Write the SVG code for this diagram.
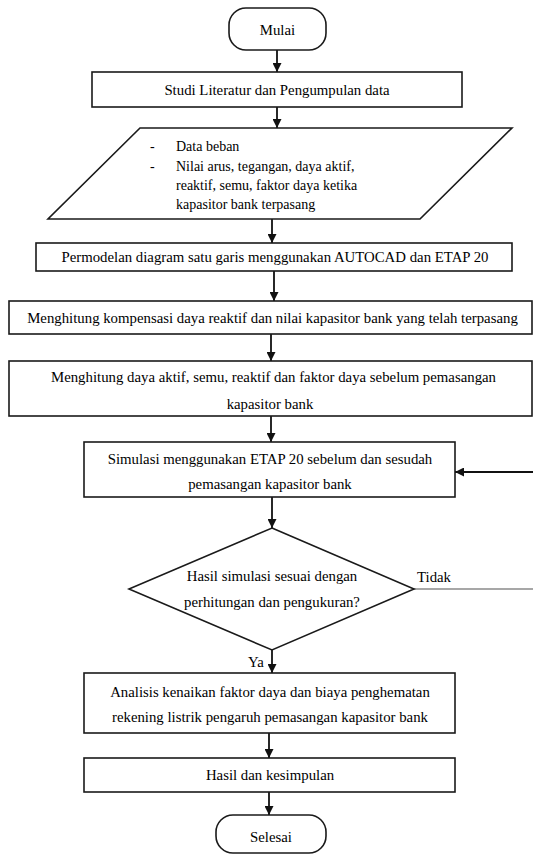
<svg xmlns="http://www.w3.org/2000/svg" width="533" height="858" viewBox="0 0 533 858">
<style>
.s{fill:#fff;stroke:#1a1a1a;stroke-width:1.6}
.t{font-family:'Liberation Serif','Times New Roman',serif;font-size:14.8px;fill:#000;text-anchor:middle;dominant-baseline:central}
.l{text-anchor:start;font-size:14px}
.c{stroke:#111;stroke-width:1.8;fill:none}
.g{stroke:#8a8a8a;stroke-width:1.4;fill:none}
</style>
<defs>
<marker id="ah" viewBox="0 0 10 10" refX="10" refY="5" markerWidth="9" markerHeight="9" markerUnits="userSpaceOnUse" orient="auto">
<path d="M0,0 L10,5 L0,10 z" fill="#111"/>
</marker>
</defs>
<rect width="533" height="858" fill="#fff"/>
<g id="connectors">
<line class="c" x1="277" y1="50" x2="277" y2="72" marker-end="url(#ah)"/>
<line class="c" x1="277" y1="107" x2="277" y2="128" marker-end="url(#ah)"/>
<line class="c" x1="272" y1="219" x2="272" y2="243" marker-end="url(#ah)"/>
<line class="c" x1="274" y1="271" x2="274" y2="301" marker-end="url(#ah)"/>
<line class="c" x1="271" y1="334" x2="271" y2="361" marker-end="url(#ah)"/>
<line class="c" x1="271" y1="416" x2="271" y2="442" marker-end="url(#ah)"/>
<line class="c" x1="272" y1="497" x2="272" y2="528" marker-end="url(#ah)"/>
<line class="c" x1="272" y1="650" x2="272" y2="673" marker-end="url(#ah)"/>
<line class="c" x1="269" y1="733" x2="269" y2="758" marker-end="url(#ah)"/>
<line class="c" x1="269" y1="792" x2="269" y2="815" marker-end="url(#ah)"/>
<line class="g" x1="414" y1="589" x2="533" y2="589"/>
<line class="c" x1="533" y1="472" x2="455" y2="472" marker-end="url(#ah)"/>
<text class="t" x="434" y="577">Tidak</text>
<text class="t" x="256" y="662">Ya</text>
</g>
<g id="mulai">
<rect class="s" x="229" y="8" width="97" height="42" rx="17" ry="17"/>
<text class="t" x="277.5" y="30">Mulai</text>
</g>
<g id="studi">
<rect class="s" x="92" y="72" width="370" height="35"/>
<text class="t" x="277" y="90">Studi Literatur dan Pengumpulan data</text>
</g>
<g id="data">
<polygon class="s" points="140,128 512,128 420,219 48,219"/>
<text class="t l" x="150" y="146">-</text>
<text class="t l" x="176" y="146">Data beban</text>
<text class="t l" x="150" y="166">-</text>
<text class="t l" x="176" y="166">Nilai arus, tegangan, daya aktif,</text>
<text class="t l" x="176" y="185">reaktif, semu, faktor daya ketika</text>
<text class="t l" x="176" y="204">kapasitor bank terpasang</text>
</g>
<g id="permodelan">
<rect class="s" x="36" y="243" width="476" height="28"/>
<text class="t" x="275" y="257">Permodelan diagram satu garis menggunakan AUTOCAD dan ETAP 20</text>
</g>
<g id="kompensasi">
<rect class="s" x="9" y="301" width="523" height="33"/>
<text class="t" x="272.5" y="317.5">Menghitung kompensasi daya reaktif dan nilai kapasitor bank yang telah terpasang</text>
</g>
<g id="daya">
<rect class="s" x="9" y="361" width="523" height="55"/>
<text class="t" x="273.5" y="377">Menghitung daya aktif, semu, reaktif dan faktor daya sebelum pemasangan</text>
<text class="t" x="270" y="404">kapasitor bank</text>
</g>
<g id="simulasi">
<rect class="s" x="84" y="442" width="371" height="55"/>
<text class="t" x="270" y="458.5">Simulasi menggunakan ETAP 20 sebelum dan sesudah</text>
<text class="t" x="270" y="483.5">pemasangan kapasitor bank</text>
</g>
<g id="keputusan">
<polygon class="s" points="272,528 414,589 272,650 129,589"/>
<text class="t" x="272" y="576">Hasil simulasi sesuai dengan</text>
<text class="t" x="272" y="602">perhitungan dan pengukuran?</text>
</g>
<g id="analisis">
<rect class="s" x="84" y="673" width="371" height="60"/>
<text class="t" x="270" y="692">Analisis kenaikan faktor daya dan biaya penghematan</text>
<text class="t" x="270" y="716.5">rekening listrik pengaruh pemasangan kapasitor bank</text>
</g>
<g id="hasil">
<rect class="s" x="84" y="758" width="371" height="34"/>
<text class="t" x="270" y="775">Hasil dan kesimpulan</text>
</g>
<g id="selesai">
<rect class="s" x="216" y="815" width="110" height="38" rx="17" ry="17"/>
<text class="t" x="271" y="837">Selesai</text>
</g>
</svg>
